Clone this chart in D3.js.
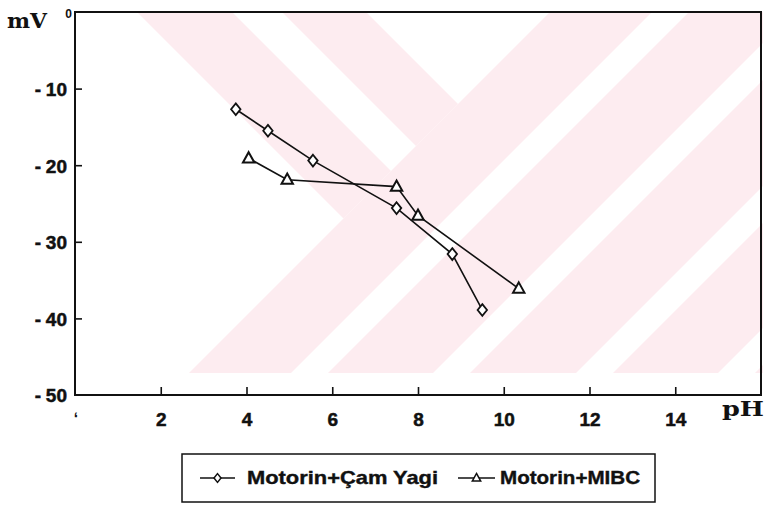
<!DOCTYPE html>
<html>
<head>
<meta charset="utf-8">
<script src="https://cdn.jsdelivr.net/npm/d3@7"></script>
<style>
  html, body { margin: 0; padding: 0; background: #ffffff; }
  svg { display: block; }
</style>
</head>
<body>
<svg id="chart" width="768" height="512"></svg>
<script>
// pH values and measured potentials (mV) for the two oil mixtures
const seriesNames = ["Motorin+Çam Yagi", "Motorin+MIBC"];
const camPH = [3.75, 4.5, 5.55, 7.5, 8.8, 9.5];
const camMV = [-12.7, -15.5, -19.4, -25.6, -31.6, -38.9];
const mibcPH = [4.05, 4.95, 7.5, 8.0, 10.35];
const mibcMV = [-19.1, -21.9, -22.8, -26.6, -36.1];

// axis ticks
const xTickValues = [2, 4, 6, 8, 10, 12, 14];
const yTickValues = [-10, -20, -30, -40, -50];
const xDomain = [0, 16];
const yDomain = [-50, 0];

const svg = d3.select("#chart");
const plot = { left: 75, right: 761, top: 12, bottom: 395 };

const x = d3.scaleLinear().domain(xDomain).range([plot.left, plot.right]);
const y = d3.scaleLinear().domain(yDomain).range([plot.bottom, plot.top]);

// ---- faint background emblem (diagonal chevron bands) ----
const defs = svg.append("defs");
defs.append("clipPath").attr("id", "emblemClip")
  .append("rect")
  .attr("x", plot.left).attr("y", plot.top)
  .attr("width", plot.right - plot.left + 2)
  .attr("height", 373 - plot.top);

// bands expressed in rotated coordinates u = x - y, v = x + y
const uv = (u, v) => [(u + v) / 2, (v - u) / 2];
const big = 3000;
const upperBands = [[125, 220], [270, 354]];     // down-right arms, above v = 562
const lowerBands = [[562, 664], [701, 806], [843, 949], [986, 1091], [1128, big]]; // up-right bands
const emblem = svg.append("g").attr("clip-path", "url(#emblemClip)");
const pink = "#fdecf0";
upperBands.forEach(([a, b]) => {
  emblem.append("polygon")
    .attr("points", [uv(a, 562), uv(b, 562), uv(b, -big), uv(a, -big)].map(p => p.join(",")).join(" "))
    .attr("fill", pink);
});
lowerBands.forEach(([a, b]) => {
  emblem.append("polygon")
    .attr("points", [uv(-big, a), uv(big, a), uv(big, b), uv(-big, b)].map(p => p.join(",")).join(" "))
    .attr("fill", pink);
});

// ---- axes ----
const tickFont = "'Liberation Sans', Arial, sans-serif";

const xAxis = d3.axisBottom(x)
  .tickValues(xTickValues)
  .tickSizeInner(-8).tickSizeOuter(0).tickPadding(18)
  .tickFormat(d3.format("d"));
const gx = svg.append("g").attr("transform", `translate(0,${plot.bottom})`).call(xAxis);

const yAxis = d3.axisLeft(y)
  .tickValues(yTickValues)
  .tickSizeInner(-7).tickSizeOuter(0).tickPadding(8)
  .tickFormat(d => "-\u2005" + Math.abs(d));
const gy = svg.append("g").attr("transform", `translate(${plot.left},0)`).call(yAxis);

[gx, gy].forEach(g => {
  g.select(".domain").remove();
  g.selectAll(".tick line").attr("stroke", "#111").attr("stroke-width", 1.6);
  g.selectAll(".tick text")
    .attr("fill", "#111")
    .attr("stroke", "#111").attr("stroke-width", 0.5)
    .style("font-family", tickFont)
    .style("font-weight", "bold")
    .style("font-size", "19px");
});
gy.selectAll(".tick text").attr("dy", "0.36em");
gy.selectAll(".tick").filter(d => d === -50).select("line").remove();

// frame
svg.append("rect")
  .attr("x", plot.left).attr("y", plot.top)
  .attr("width", plot.right - plot.left).attr("height", plot.bottom - plot.top)
  .attr("fill", "none").attr("stroke", "#111").attr("stroke-width", 2);

// small zero at the top of the mV scale
svg.append("text")
  .attr("x", 72).attr("y", y(0) + 6)
  .attr("text-anchor", "end")
  .style("font-family", tickFont).style("font-weight", "bold").style("font-size", "12px")
  .attr("fill", "#111").text("0");

// origin mark under the x axis
svg.append("text")
  .attr("transform", `translate(${x(0) + 1},${plot.bottom + 20}) rotate(180)`)
  .attr("text-anchor", "middle")
  .style("font-family", tickFont).style("font-weight", "bold").style("font-size", "15px")
  .attr("fill", "#111").text(",");

// axis titles
const titleFont = "'DejaVu Serif', 'Liberation Serif', serif";
svg.append("text")
  .attr("x", 7).attr("y", 28)
  .attr("textLength", 40).attr("lengthAdjust", "spacingAndGlyphs")
  .style("font-family", titleFont).style("font-weight", "bold").style("font-size", "21px")
  .attr("fill", "#111").text("mV");
svg.append("text")
  .attr("x", 722).attr("y", 416)
  .attr("textLength", 42).attr("lengthAdjust", "spacingAndGlyphs")
  .style("font-family", titleFont).style("font-weight", "bold").style("font-size", "20px")
  .attr("fill", "#111").text("pH");

// ---- markers ----
const diamondType = {
  draw(ctx, size) {
    const h = Math.sqrt(size) * 0.62, w = h * 0.8;
    ctx.moveTo(0, -h); ctx.lineTo(w, 0); ctx.lineTo(0, h); ctx.lineTo(-w, 0); ctx.closePath();
  }
};
const triangleType = {
  draw(ctx, size) {
    const s = Math.sqrt(size) * 1.0, h = s * 0.9;
    ctx.moveTo(0, -h * 0.6); ctx.lineTo(s / 2, h * 0.4); ctx.lineTo(-s / 2, h * 0.4); ctx.closePath();
  }
};

const line = d3.line().x(d => x(d[0])).y(d => y(d[1]));
const camData = camPH.map((p, i) => [p, camMV[i]]);
const mibcData = mibcPH.map((p, i) => [p, mibcMV[i]]);

const series = [
  { name: seriesNames[0], data: camData, type: diamondType, size: 90, sw: 1.8 },
  { name: seriesNames[1], data: mibcData, type: triangleType, size: 130, sw: 2 }
];

series.forEach(s => {
  svg.append("path").datum(s.data)
    .attr("d", line)
    .attr("fill", "none").attr("stroke", "#111").attr("stroke-width", 1.6);
});
series.forEach(s => {
  svg.append("g").selectAll("path").data(s.data).join("path")
    .attr("transform", d => `translate(${x(d[0])},${y(d[1])})`)
    .attr("d", d3.symbol().type(s.type).size(s.size))
    .attr("fill", "#fff").attr("stroke", "#111").attr("stroke-width", s.sw);
});

// ---- legend ----
const legend = svg.append("g");
legend.append("rect")
  .attr("x", 182).attr("y", 454).attr("width", 473).attr("height", 48)
  .attr("fill", "#fff").attr("stroke", "#111").attr("stroke-width", 1.5);

const legendItems = [
  { s: series[0], x0: 200, x1: 235, tx: 247, tl: 191, msize: 50 },
  { s: series[1], x0: 458, x1: 495, tx: 500, tl: 140, msize: 70 }
];
legendItems.forEach(it => {
  const ly = 478;
  legend.append("line")
    .attr("x1", it.x0).attr("x2", it.x1).attr("y1", ly).attr("y2", ly)
    .attr("stroke", "#111").attr("stroke-width", 1.6);
  legend.append("path")
    .attr("transform", `translate(${(it.x0 + it.x1) / 2},${ly})`)
    .attr("d", d3.symbol().type(it.s.type).size(it.msize))
    .attr("fill", "#fff").attr("stroke", "#111").attr("stroke-width", 1.5);
  legend.append("text")
    .attr("x", it.tx).attr("y", 484)
    .attr("textLength", it.tl).attr("lengthAdjust", "spacingAndGlyphs")
    .attr("stroke", "#111").attr("stroke-width", 0.4)
    .style("font-family", tickFont).style("font-weight", "bold").style("font-size", "19px")
    .attr("fill", "#111").text(it.s.name);
});
</script>
</body>
</html>
